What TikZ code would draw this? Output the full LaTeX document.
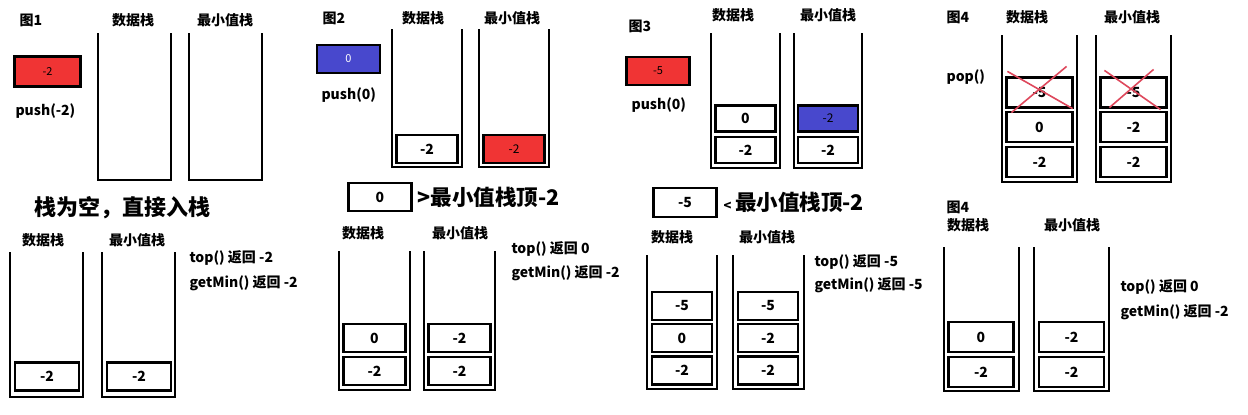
\documentclass[tikz,border=0pt]{standalone}
\usepackage{fontspec}
\setmainfont{Noto Sans CJK SC}
\definecolor{pushred}{RGB}{240,52,52}
\definecolor{pushblue}{RGB}{72,72,205}
\definecolor{crossred}{RGB}{222,72,92}
% open stack: left, right, top, bottom
\newcommand\stackwall[4]{%
  \draw[wall] (#1,#3) -- (#1,#4) -- (#2,#4) -- (#2,#3);}
\begin{document}
\begin{tikzpicture}[x=1pt, y=-1pt,
  every node/.style = {font=\bfseries\fontsize{14}{16}\selectfont},
  wall/.style = {line width=2.8pt},
  cell/.style = {draw, line width=2.2pt, fill=white, inner sep=0pt,
    minimum width=63pt, minimum height=28pt},
  pushbox/.style = {cell, font=\fontsize{11}{13}\selectfont},
  title/.style = {anchor=center},
  note/.style = {anchor=west},
  big/.style = {anchor=west, font=\bfseries\fontsize{22}{24}\selectfont},
  cross/.style = {crossred, line width=1.6pt}]
  \useasboundingbox (0,0) rectangle (1248,415);

  % figure 1
  \node[note] (fig1) at (16,20) {图1};
  \node[title] (data1) at (133,20) {数据栈};
  \node[title] (min1) at (225,20) {最小值栈};
  \node[pushbox, fill=pushred, minimum width=66pt, minimum height=30pt] (in1) at (47.5,71.5) {-2};
  \node[note] (op1) at (12,111) {push(-2)};
  \stackwall{98}{171}{33}{180}
  \stackwall{189}{262}{33}{180}
  \node[big] (why1) at (31,208) {栈为空，直接入栈};

  % figure 2
  \node[note] (fig2) at (319,18) {图2};
  \node[title] (data2) at (423,18) {数据栈};
  \node[title] (min2) at (512,18) {最小值栈};
  \node[pushbox, fill=pushblue, text=white] (in2) at (348.5,59) {0};
  \node[note] (op2) at (318,95) {push(0)};
  \stackwall{392}{462}{29}{167}
  \stackwall{479}{549}{29}{167}
  \node[cell, minimum width=61pt] (d2a) at (427,149) {-2};
  \node[cell, minimum width=61pt, fill=pushred, font=\fontsize{12}{13}\selectfont] (m2a) at (514,149) {-2};
  \node[cell] (cmp2) at (380,197) {0};
  \node[big, font=\bfseries\fontsize{21.5}{24}\selectfont] (why2) at (414,197) {>最小值栈顶-2};

  % figure 3
  \node[note] (fig3) at (625,26) {图3};
  \node[title] (data3) at (733,15) {数据栈};
  \node[title] (min3) at (828,15) {最小值栈};
  \node[pushbox, fill=pushred] (in3) at (658,71) {-5};
  \node[note] (op3) at (628,105) {push(0)};
  \stackwall{711}{780}{33}{168}
  \stackwall{794}{862}{33}{168}
  \node[cell, minimum width=60pt, minimum height=26pt] (d3b) at (745.5,118.5) {0};
  \node[cell, minimum width=60pt, minimum height=26pt] (d3a) at (745.5,150) {-2};
  \node[cell, minimum width=60pt, minimum height=26pt, fill=pushblue, font=\fontsize{12}{13}\selectfont] (m3b) at (828,118.5) {-2};
  \node[cell, minimum width=60pt, minimum height=26pt] (m3a) at (828,150) {-2};
  \node[cell, minimum height=29pt] (cmp3) at (685,202.5) {-5};
  \node[big, font=\bfseries\fontsize{21.5}{24}\selectfont] (why3) at (720,202) {{\fontsize{13}{13}\selectfont <}\,最小值栈顶-2};

  % figure 4: pop
  \node[note] (fig4) at (943,17) {图4};
  \node[title] (data4) at (1027,17) {数据栈};
  \node[title] (min4) at (1132,17) {最小值栈};
  \node[note] (op4) at (943,77) {pop()};
  \stackwall{1002}{1077}{35}{182}
  \stackwall{1096}{1171}{35}{182}
  \node[cell, minimum width=66pt, minimum height=30pt] (d4c) at (1039.5,92.5) {-5};
  \node[cell, minimum width=66pt, minimum height=30pt] (d4b) at (1039.5,127) {0};
  \node[cell, minimum width=66pt, minimum height=30pt] (d4a) at (1039.5,162) {-2};
  \node[cell, minimum width=66pt, minimum height=30pt] (m4c) at (1133.5,92.5) {-5};
  \node[cell, minimum width=66pt, minimum height=30pt] (m4b) at (1133.5,127) {-2};
  \node[cell, minimum width=66pt, minimum height=30pt] (m4a) at (1133.5,162) {-2};
  \draw[cross] ([xshift=2pt,yshift=5pt]d4c.north west) -- ([xshift=-1pt]d4c.south east);
  \draw[cross] ([xshift=6pt,yshift=-4pt]d4c.south west) -- ([xshift=-7pt,yshift=10pt]d4c.north east);
  \draw[cross] ([xshift=5pt,yshift=6pt]m4c.north west) -- ([xshift=-7pt,yshift=-1pt]m4c.south east);
  \draw[cross] ([xshift=10pt,yshift=1pt]m4c.south west) -- ([xshift=-14pt,yshift=7pt]m4c.north east);

  % result 1
  \node[title] (data5) at (43,240) {数据栈};
  \node[title] (min5) at (137,240) {最小值栈};
  \stackwall{10}{83}{252}{397}
  \stackwall{102}{175}{252}{397}
  \node[cell, minimum width=64pt] (d5a) at (47,376.5) {-2};
  \node[cell, minimum width=64pt] (m5a) at (139,376.5) {-2};
  \node[note] (top5) at (186,258) {top() 返回 -2};
  \node[note] (get5) at (186,283) {getMin() 返回 -2};

  % result 2
  \node[title] (data6) at (363,233) {数据栈};
  \node[title] (min6) at (460,233) {最小值栈};
  \stackwall{339}{410}{251}{390}
  \stackwall{424}{495}{251}{390}
  \node[cell, minimum width=62pt] (d6b) at (374.5,338) {0};
  \node[cell, minimum width=62pt] (d6a) at (374.5,371) {-2};
  \node[cell, minimum width=62pt] (m6b) at (459.5,338) {-2};
  \node[cell, minimum width=62pt] (m6a) at (459.5,371) {-2};
  \node[note] (top6) at (508,249) {top() 返回 0};
  \node[note] (get6) at (508,273) {getMin() 返回 -2};

  % result 3
  \node[title] (data7) at (672,237) {数据栈};
  \node[title] (min7) at (767,237) {最小值栈};
  \stackwall{647}{717}{255}{389}
  \stackwall{733}{804}{255}{389}
  \node[cell, minimum width=60pt] (d7c) at (682,306) {-5};
  \node[cell, minimum width=60pt] (d7b) at (682,338) {0};
  \node[cell, minimum width=60pt] (d7a) at (682,370.5) {-2};
  \node[cell, minimum width=60pt] (m7c) at (768,306) {-5};
  \node[cell, minimum width=60pt] (m7b) at (768,338) {-2};
  \node[cell, minimum width=60pt] (m7a) at (768,370.5) {-2};
  \node[note] (top7) at (811,262) {top() 返回 -5};
  \node[note] (get7) at (811,285) {getMin() 返回 -5};

  % result 4
  \node[note] (fig8) at (943,207) {图4};
  \node[title] (data8) at (968,225) {数据栈};
  \node[title] (min8) at (1072,225) {最小值栈};
  \stackwall{944}{1019}{247}{391}
  \stackwall{1034}{1109}{247}{391}
  \node[cell, minimum width=65pt, minimum height=30pt] (d8b) at (981,337) {0};
  \node[cell, minimum width=65pt, minimum height=30pt] (d8a) at (981,372) {-2};
  \node[cell, minimum width=65pt, minimum height=30pt] (m8b) at (1071.5,337) {-2};
  \node[cell, minimum width=65pt, minimum height=30pt] (m8a) at (1071.5,372) {-2};
  \node[note] (top8) at (1117,287) {top() 返回 0};
  \node[note] (get8) at (1117,312) {getMin() 返回 -2};
\end{tikzpicture}
\end{document}
